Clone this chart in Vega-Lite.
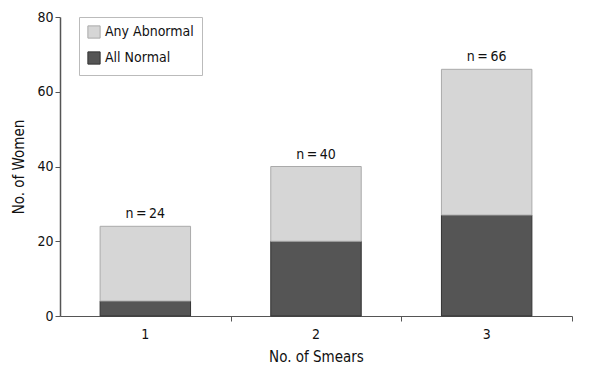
{
  "$schema": "https://vega.github.io/schema/vega-lite/v6.json",
  "width": 512,
  "height": 299,
  "autosize": {"type": "none"},
  "padding": {"left": 60, "top": 17, "right": 18, "bottom": 56},
  "background": "white",
  "config": {
    "view": {"stroke": null},
    "font": "DejaVu Sans Condensed, Roboto, sans-serif",
    "axis": {"domainColor": "#555", "tickColor": "#555", "labelColor": "#111", "titleColor": "#111", "labelFont": "DejaVu Sans Condensed, Roboto, sans-serif", "titleFont": "DejaVu Sans Condensed, Roboto, sans-serif", "labelFontSize": 14, "titleFontSize": 15, "titleFontWeight": "normal", "grid": false},
    "legend": {"labelFont": "DejaVu Sans Condensed, Roboto, sans-serif"}
  },
  "datasets": {
    "bars": [
      {"smears": "1", "group": "All Normal", "count": 4, "ord": 1},
      {"smears": "1", "group": "Any Abnormal", "count": 20, "ord": 2},
      {"smears": "2", "group": "All Normal", "count": 20, "ord": 1},
      {"smears": "2", "group": "Any Abnormal", "count": 20, "ord": 2},
      {"smears": "3", "group": "All Normal", "count": 27, "ord": 1},
      {"smears": "3", "group": "Any Abnormal", "count": 39, "ord": 2}
    ],
    "totals": [
      {"smears": "1", "total": 24, "label": "n\u2009=\u200924"},
      {"smears": "2", "total": 40, "label": "n\u2009=\u200940"},
      {"smears": "3", "total": 66, "label": "n\u2009=\u200966"}
    ]
  },
  "layer": [
    {
      "data": {"name": "bars"},
      "mark": {"type": "bar", "strokeWidth": 1},
      "encoding": {
        "x": {"field": "smears", "type": "nominal", "title": "No. of Smears",
              "scale": {"paddingInner": 0.47, "paddingOuter": 0.235},
              "axis": {"labelAngle": 0, "bandPosition": 1.45, "tickSize": 5, "labelPadding": 6, "titlePadding": 8, "domainWidth": 1}},
        "y": {"field": "count", "type": "quantitative", "stack": "zero", "title": "No. of Women",
              "scale": {"domain": [0, 80], "nice": false},
              "axis": {"values": [0, 20, 40, 60, 80], "tickSize": 5, "domainWidth": 1.5, "labelPadding": 2, "titlePadding": 10}},
        "order": {"field": "ord", "type": "quantitative"},
        "color": {"field": "group", "type": "nominal",
                  "scale": {"domain": ["Any Abnormal", "All Normal"], "range": ["#d6d6d6", "#555555"]},
                  "legend": {"title": null, "orient": "none", "legendX": 19, "legendY": 0,
                             "strokeColor": "#bbb", "padding": 8, "labelFontSize": 14,
                             "symbolType": "square", "symbolSize": 150, "symbolStrokeColor": "#444", "symbolStrokeWidth": 1,
                             "rowPadding": 8, "labelColor": "#111", "fillColor": "white"}},
        "stroke": {"field": "group", "type": "nominal",
                   "scale": {"domain": ["Any Abnormal", "All Normal"], "range": ["#aaaaaa", "#333333"]},
                   "legend": null}
      }
    },
    {
      "data": {"name": "totals"},
      "mark": {"type": "text", "baseline": "bottom", "dy": -5, "fontSize": 14, "color": "#111"},
      "encoding": {
        "x": {"field": "smears", "type": "nominal"},
        "y": {"field": "total", "type": "quantitative"},
        "text": {"field": "label"}
      }
    }
  ]
}
